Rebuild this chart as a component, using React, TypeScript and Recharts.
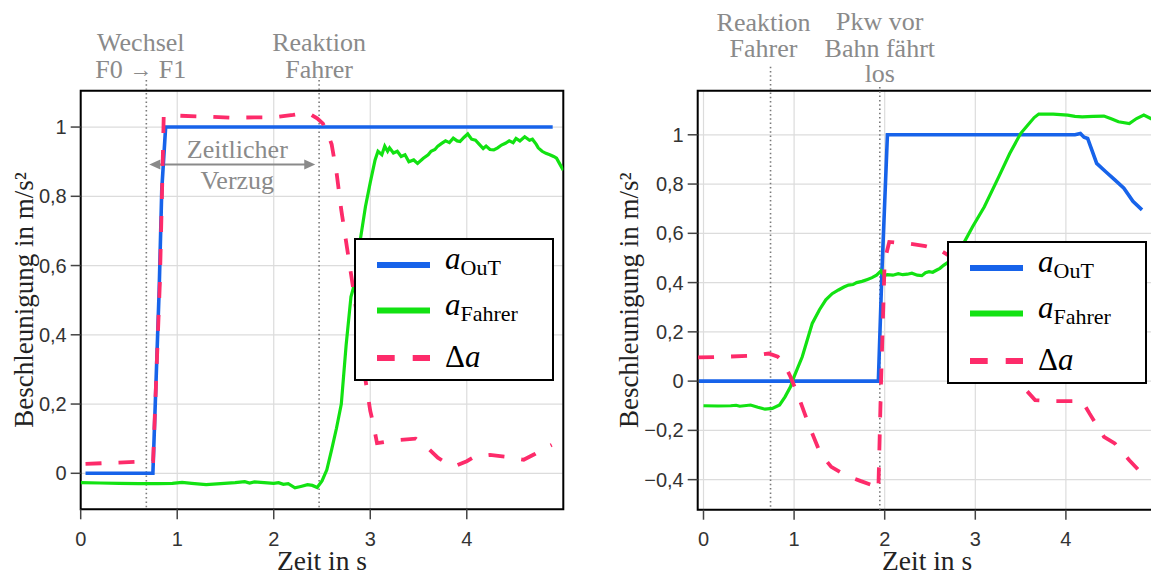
import React from "react";
import {
  LineChart,
  Line,
  XAxis,
  YAxis,
  CartesianGrid,
  ReferenceLine,
  ReferenceArea,
} from "recharts";

const BLUE = "#1763ea";
const GREEN = "#12e212";
const PINK = "#fd2b6a";
const GREY = "#8a8a8a";
const DOT = "#7a7a7a";
const SERIF = "'Liberation Serif', 'Times New Roman', serif";
const SANS = "'Liberation Sans', Arial, sans-serif";

// ---- left panel (Wechsel F0 -> F1) ----
const L_OUT_T = [0.05, 0.748, 0.813, 0.84, 0.88, 4.89];
const L_OUT_V = [0, 0, 0.53, 0.82, 1, 1];

const L_FAHRER_T = [
  0, 0.2, 0.4, 0.6, 0.8, 0.95, 1.05, 1.15, 1.3, 1.45, 1.6, 1.7, 1.75, 1.8, 1.9, 2.0, 2.05, 2.1, 2.15,
  2.22, 2.28, 2.35, 2.4, 2.45, 2.5, 2.55, 2.6, 2.65, 2.7, 2.75, 2.8, 2.85, 2.9, 2.95, 3.0, 3.05, 3.08,
  3.12, 3.15, 3.18, 3.2, 3.24, 3.28, 3.32, 3.36, 3.4, 3.45, 3.49, 3.55, 3.6, 3.63, 3.67, 3.7, 3.74,
  3.78, 3.82, 3.86, 3.9, 3.93, 3.97, 4.01, 4.05, 4.09, 4.13, 4.17, 4.2, 4.24, 4.28, 4.32, 4.36, 4.4,
  4.44, 4.48, 4.51, 4.55, 4.6, 4.65, 4.68, 4.72, 4.74, 4.78, 4.82, 4.86, 4.9, 4.93, 4.97, 5.0,
];
const L_FAHRER_V = [
  -0.027, -0.028, -0.029, -0.03, -0.03, -0.029, -0.026, -0.029, -0.033, -0.03, -0.027, -0.024, -0.028,
  -0.025, -0.027, -0.029, -0.027, -0.032, -0.03, -0.042, -0.038, -0.033, -0.035, -0.041, -0.022, 0.01,
  0.068, 0.13, 0.2, 0.37, 0.51, 0.56, 0.68, 0.77, 0.84, 0.905, 0.93, 0.92, 0.945, 0.93, 0.94, 0.925,
  0.93, 0.915, 0.92, 0.9, 0.905, 0.895, 0.91, 0.92, 0.93, 0.935, 0.945, 0.953, 0.96, 0.955, 0.968, 0.96,
  0.958, 0.97, 0.98, 0.965, 0.962, 0.95, 0.938, 0.945, 0.935, 0.934, 0.94, 0.948, 0.953, 0.96, 0.955,
  0.967, 0.96, 0.972, 0.962, 0.965, 0.95, 0.94, 0.93, 0.924, 0.92, 0.915, 0.91, 0.89, 0.875,
];

const L_DELTA_T = [
  0.05, 0.72, 0.75, 0.82, 0.845, 0.86, 1.0, 1.3, 1.55, 1.8, 2.0, 2.2, 2.3, 2.38, 2.45, 2.51, 2.56, 2.6,
  2.65, 2.7, 2.76, 2.82, 2.85, 2.9, 2.95, 3.0, 3.03, 3.07, 3.24, 3.47, 3.58, 3.7, 3.78, 3.89, 4.0, 4.08,
  4.24, 4.4, 4.59, 4.7, 4.78, 4.88,
];
const L_DELTA_V = [
  0.027, 0.035, 0.035, 0.55, 0.84, 1.03, 1.033, 1.03, 1.027, 1.028, 1.028, 1.035, 1.04, 1.037, 1.025,
  1.01, 0.98, 0.95, 0.87, 0.76, 0.65, 0.54, 0.48, 0.37, 0.27, 0.18, 0.145, 0.087, 0.095, 0.1, 0.077,
  0.045, 0.031, 0.022, 0.035, 0.048, 0.053, 0.048, 0.039, 0.055, 0.068, 0.082,
];

// ---- right panel (Pkw vor Bahn) ----
const R_OUT_T = [-0.05, 1.93, 1.97, 2.03, 4.1, 4.16, 4.2, 4.24, 4.34, 4.44, 4.54, 4.64, 4.74, 4.84];
const R_OUT_V = [0, 0, 0.45, 1, 1, 1.005, 0.99, 0.985, 0.884, 0.85, 0.817, 0.783, 0.73, 0.695];

const R_FAHRER_T = [
  0, 0.16, 0.3, 0.36, 0.4, 0.52, 0.6, 0.68, 0.76, 0.84, 0.9, 0.96, 1.0, 1.09, 1.2, 1.28, 1.35, 1.42,
  1.49, 1.55, 1.6, 1.65, 1.69, 1.75, 1.81, 1.86, 1.91, 1.96, 1.99, 2.03, 2.09, 2.15, 2.2, 2.25, 2.3,
  2.36, 2.41, 2.45, 2.49, 2.53, 2.57, 2.61, 2.65, 2.71, 2.77, 2.85, 2.97, 3.1, 3.26, 3.38, 3.5, 3.58,
  3.65, 3.7, 3.86, 4.02, 4.1, 4.18, 4.3, 4.42, 4.5, 4.58, 4.7, 4.78, 4.86, 4.96,
];
const R_FAHRER_V = [
  -0.1, -0.101, -0.1, -0.098, -0.102, -0.097, -0.106, -0.114, -0.111, -0.097, -0.064, -0.023, 0.018,
  0.099, 0.234, 0.29, 0.33, 0.355, 0.37, 0.382, 0.39, 0.392, 0.4, 0.405, 0.413, 0.42, 0.43, 0.448,
  0.428, 0.432, 0.43, 0.436, 0.432, 0.434, 0.438, 0.43, 0.428, 0.44, 0.444, 0.442, 0.45, 0.458, 0.47,
  0.485, 0.505, 0.545, 0.627, 0.708, 0.83, 0.924, 1.005, 1.04, 1.07, 1.084, 1.084, 1.08, 1.075, 1.073,
  1.075, 1.076, 1.065, 1.053, 1.046, 1.066, 1.08, 1.062,
];

const R_DELTA_T = [
  -0.06, 0.24, 0.56, 0.72, 0.82, 0.88, 0.96, 1.05, 1.17, 1.29, 1.41, 1.57, 1.73, 1.91, 1.93, 1.96, 2.0,
  2.05, 2.25, 2.45, 2.61, 2.77, 2.97, 3.1, 3.26, 3.38, 3.51, 3.66, 3.86, 4.18, 4.26, 4.42, 4.54, 4.7,
  4.82,
];
const R_DELTA_V = [
  0.096, 0.099, 0.104, 0.112, 0.099, 0.078, 0.018, -0.064, -0.185, -0.294, -0.348, -0.382, -0.405,
  -0.429, -0.442, 0.0, 0.49, 0.565, 0.559, 0.548, 0.532, 0.495, 0.373, 0.29, 0.17, 0.076, -0.016,
  -0.077, -0.081, -0.081, -0.131, -0.226, -0.253, -0.321, -0.368,
];

const X_TICKS = [0, 1, 2, 3, 4];
const L_Y_TICKS = [0, 0.2, 0.4, 0.6, 0.8, 1];
const R_Y_TICKS = [-0.4, -0.2, 0, 0.2, 0.4, 0.6, 0.8, 1];

const L_MARKS = [
  { x: 0.68, text: ["Wechsel", "F0 → F1"] },
  { x: 2.47, text: ["Reaktion", "Fahrer"] },
];
const R_MARKS = [
  { x: 0.74, text: ["Reaktion", "Fahrer"] },
  { x: 1.946, text: ["Pkw vor", "Bahn fährt", "los"] },
];
const L_ARROW = { from: 0.711, to: 2.43, y: 0.892, text: ["Zeitlicher", "Verzug"] };

const zip = (t: number[], v: number[]) => t.map((x, i) => ({ t: x, v: v[i] }));

const fmtY = (v: number) => {
  if (Math.abs(v) < 1e-9) return "0";
  let s = v.toFixed(1);
  if (s.endsWith(".0")) s = s.slice(0, -2);
  return s.replace(".", ",").replace("-", "−");
};

type Mark = { x: number; text: string[] };
type Layout = { dx: number; base: number[]; start: number };

// the arrow glyph is drawn a bit smaller, like in the original
function annot(s: string) {
  const parts = s.split("→");
  if (parts.length < 2) return s;
  return (
    <>
      {parts[0]}
      <tspan fontSize={23} dy={-1}>
        →
      </tspan>
      <tspan dy={1}>{parts[1]}</tspan>
    </>
  );
}

function markShape(m: Mark, l: Layout) {
  return (p: any) => {
    const top = Math.min(p.y1, p.y2);
    const bottom = Math.max(p.y1, p.y2);
    return (
      <g>
        <line
          x1={p.x1}
          x2={p.x1}
          y1={top - l.start}
          y2={bottom}
          stroke={DOT}
          strokeWidth={1.6}
          strokeDasharray="1.5 2.8"
        />
        {m.text.map((s, i) => (
          <text
            key={i}
            x={p.x1 + l.dx}
            y={top + l.base[i]}
            textAnchor="middle"
            fill={GREY}
            style={{ fontFamily: SERIF, fontSize: 26 }}
          >
            {annot(s)}
          </text>
        ))}
      </g>
    );
  };
}

const arrowShape = (p: any) => {
  const y = p.y1;
  const a = Math.min(p.x1, p.x2);
  const b = Math.max(p.x1, p.x2);
  const mid = (a + b) / 2 + 5;
  return (
    <g>
      <line x1={a + 6} x2={b - 6} y1={y} y2={y} stroke={GREY} strokeWidth={2} />
      <polygon points={`${a},${y} ${a + 11},${y - 5} ${a + 11},${y + 5}`} fill={GREY} />
      <polygon points={`${b},${y} ${b - 11},${y - 5} ${b - 11},${y + 5}`} fill={GREY} />
      <text x={mid} y={y - 6} textAnchor="middle" fill={GREY} style={{ fontFamily: SERIF, fontSize: 26 }}>
        {L_ARROW.text[0]}
      </text>
      <text x={mid} y={y + 25} textAnchor="middle" fill={GREY} style={{ fontFamily: SERIF, fontSize: 26 }}>
        {L_ARROW.text[1]}
      </text>
    </g>
  );
};

function LegendBox(props: { left: number; top: number }) {
  const rows = [25, 70.5, 118];
  const txt = { fontFamily: SERIF, fontSize: 31 };
  return (
    <div
      style={{
        position: "absolute",
        left: props.left,
        top: props.top,
        width: 200,
        height: 143,
        boxSizing: "border-box",
        border: "2px solid #000",
        background: "#fff",
      }}
    >
      <svg width={196} height={139} style={{ display: "block" }}>
        <line x1={21} x2={74} y1={rows[0]} y2={rows[0]} stroke={BLUE} strokeWidth={6} />
        <line x1={21} x2={74} y1={rows[1]} y2={rows[1]} stroke={GREEN} strokeWidth={6} />
        <line
          x1={21}
          x2={74}
          y1={rows[2]}
          y2={rows[2]}
          stroke={PINK}
          strokeWidth={6}
          strokeDasharray="17.7 18"
        />
        <text x={89} y={rows[0] + 4} style={txt} fill="#000">
          <tspan fontStyle="italic">a</tspan>
          <tspan fontSize={22} dy={6}>
            OuT
          </tspan>
        </text>
        <text x={89} y={rows[1] + 4} style={txt} fill="#000">
          <tspan fontStyle="italic">a</tspan>
          <tspan fontSize={22} dy={6}>
            Fahrer
          </tspan>
        </text>
        <text x={89} y={rows[2] + 9} style={txt} fill="#000">
          <tspan>Δ</tspan>
          <tspan fontStyle="italic">a</tspan>
        </text>
      </svg>
    </div>
  );
}

function Panel(props: {
  left: number;
  width: number;
  yAxisWidth: number;
  marginRight: number;
  xAxisHeight: number;
  xDomain: [number, number];
  yDomain: [number, number];
  yTicks: number[];
  out: { t: number; v: number }[];
  fahrer: { t: number; v: number }[];
  delta: { t: number; v: number }[];
  marks: Mark[];
  layouts: Layout[];
  arrow?: boolean;
  yLabelX: number;
  legendLeft: number;
  legendTop: number;
}) {
  const tickStyle = { fill: "#333", fontSize: 20, fontFamily: SANS };
  const tickLine = { stroke: "#444", strokeWidth: 1.5 };
  return (
    <div style={{ position: "absolute", left: props.left, top: 0 }}>
      <LineChart
        width={props.width}
        height={576}
        margin={{ top: 90.7, right: props.marginRight, bottom: 0, left: 0 }}
      >
        <CartesianGrid stroke="#dcdcdc" strokeWidth={1.2} />
        <XAxis
          type="number"
          dataKey="t"
          domain={props.xDomain}
          ticks={X_TICKS}
          interval={0}
          allowDataOverflow
          height={props.xAxisHeight}
          axisLine={false}
          tickSize={10}
          tickMargin={12}
          tick={tickStyle}
          tickLine={tickLine}
          label={{
            content: (lp: any) => {
              const vb = lp.viewBox;
              return (
                <text
                  x={vb.x + vb.width / 2}
                  y={vb.y + 60.5}
                  textAnchor="middle"
                  fill="#222"
                  style={{ fontFamily: SERIF, fontSize: 27.5 }}
                >
                  Zeit in s
                </text>
              );
            },
          }}
        />
        <YAxis
          type="number"
          domain={props.yDomain}
          ticks={props.yTicks}
          interval={0}
          allowDataOverflow
          width={props.yAxisWidth}
          axisLine={false}
          tickSize={10}
          tickMargin={4}
          tick={tickStyle}
          tickLine={tickLine}
          tickFormatter={fmtY}
          label={{
            content: (lp: any) => {
              const vb = lp.viewBox;
              const x = vb.x + props.yLabelX;
              const y = vb.y + vb.height / 2;
              return (
                <text
                  x={x}
                  y={y}
                  transform={`rotate(-90, ${x}, ${y})`}
                  textAnchor="middle"
                  fill="#222"
                  style={{ fontFamily: SERIF, fontSize: 27 }}
                >
                  Beschleunigung in m/s²
                </text>
              );
            },
          }}
        />
        {props.marks.map((m, i) => (
          <ReferenceLine key={i} x={m.x} shape={markShape(m, props.layouts[i])} />
        ))}
        {props.arrow ? (
          <ReferenceLine
            segment={[
              { x: L_ARROW.from, y: L_ARROW.y },
              { x: L_ARROW.to, y: L_ARROW.y },
            ]}
            shape={arrowShape}
          />
        ) : null}
        <Line
          data={props.out}
          dataKey="v"
          type="linear"
          stroke={BLUE}
          strokeWidth={3.6}
          dot={false}
          isAnimationActive={false}
        />
        <Line
          data={props.fahrer}
          dataKey="v"
          type="linear"
          stroke={GREEN}
          strokeWidth={3.2}
          dot={false}
          isAnimationActive={false}
        />
        <Line
          data={props.delta}
          dataKey="v"
          type="linear"
          stroke={PINK}
          strokeWidth={3.8}
          strokeDasharray="16 17"
          dot={false}
          isAnimationActive={false}
        />
        <ReferenceArea
          x1={props.xDomain[0]}
          x2={props.xDomain[1]}
          y1={props.yDomain[0]}
          y2={props.yDomain[1]}
          fill="none"
          fillOpacity={0}
          stroke="#000"
          strokeWidth={2}
        />
      </LineChart>
      <LegendBox left={props.legendLeft} top={props.legendTop} />
    </div>
  );
}

export default function App() {
  return (
    <div
      style={{
        position: "fixed",
        left: 0,
        top: 0,
        width: 1151,
        height: 576,
        overflow: "hidden",
        background: "#fff",
      }}
    >
      <Panel
        left={0}
        width={580}
        yAxisWidth={80.7}
        marginRight={16.7}
        xAxisHeight={66.7}
        xDomain={[0, 5]}
        yDomain={[-0.104, 1.105]}
        yTicks={L_Y_TICKS}
        out={zip(L_OUT_T, L_OUT_V)}
        fahrer={zip(L_FAHRER_T, L_FAHRER_V)}
        delta={zip(L_DELTA_T, L_DELTA_V)}
        marks={L_MARKS}
        layouts={[
          { dx: -5.5, base: [-39.7, -13], start: 10.7 },
          { dx: 0, base: [-39.7, -13], start: 10.7 },
        ]}
        arrow
        yLabelX={33}
        legendLeft={354}
        legendTop={237.7}
      />
      <Panel
        left={580}
        width={590}
        yAxisWidth={117.7}
        marginRight={13.5}
        xAxisHeight={66.3}
        xDomain={[-0.064, 5.0]}
        yDomain={[-0.522, 1.179]}
        yTicks={R_Y_TICKS}
        out={zip(R_OUT_T, R_OUT_V)}
        fahrer={zip(R_FAHRER_T, R_FAHRER_V)}
        delta={zip(R_DELTA_T, R_DELTA_V)}
        marks={R_MARKS}
        layouts={[
          { dx: -7, base: [-60, -33.4], start: 24 },
          { dx: 0, base: [-60.5, -34, -8.5], start: 3.7 },
        ]}
        yLabelX={58}
        legendLeft={366.7}
        legendTop={240.7}
      />
    </div>
  );
}
